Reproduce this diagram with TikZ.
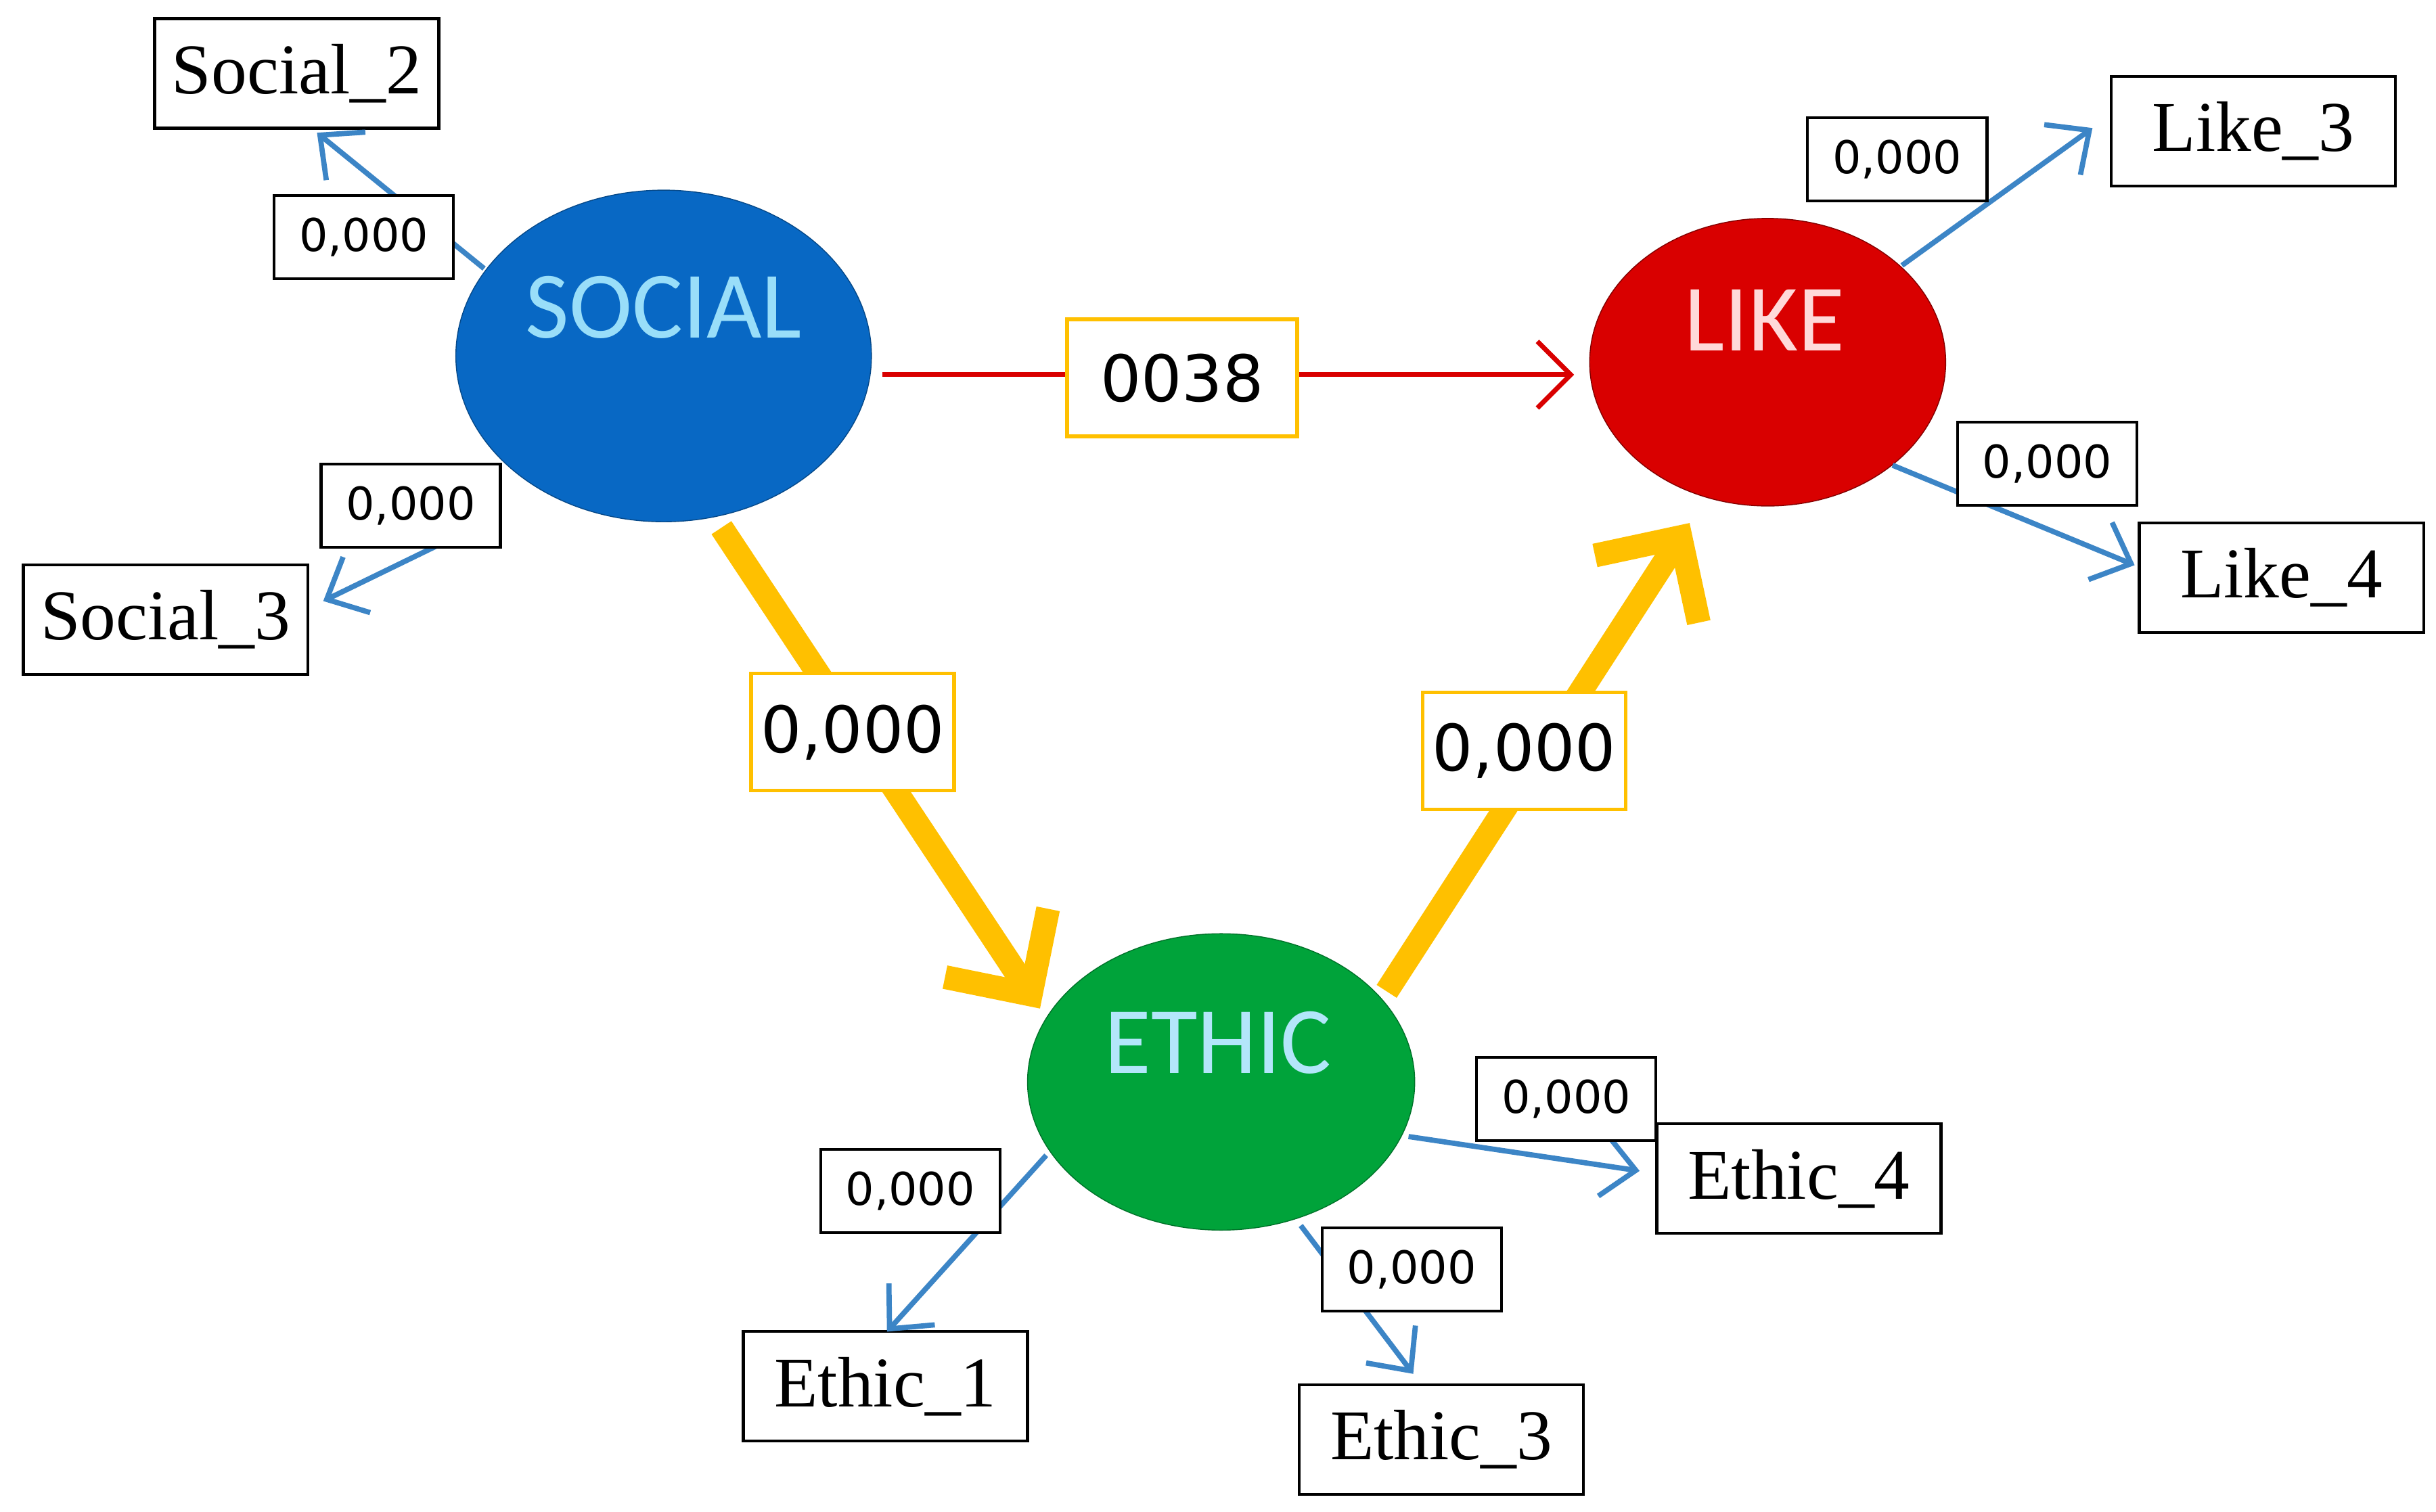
\documentclass[tikz,border=0pt]{standalone}
\usepackage{fontspec}
\setmainfont{Liberation Serif}
\newfontfamily\calfnt{Carlito}
\newfontfamily\dvfnt{DejaVu Sans}
\usetikzlibrary{arrows.meta,shapes.geometric}
\definecolor{sblue}{HTML}{0868C4}
\definecolor{lred}{HTML}{D90000}
\definecolor{egreen}{HTML}{00A33A}
\definecolor{ylw}{HTML}{FFC000}
\definecolor{abl}{HTML}{3C85C6}
\begin{document}
\begin{tikzpicture}[x=0.023077cm,y=-0.023077cm,
 ind/.style={draw,line width=1.2pt,minimum width=4.2cm,minimum height=1.62cm,font=\fontsize{30}{30}\selectfont,fill=white},
 sm/.style={draw,line width=1.2pt,minimum width=2.65cm,minimum height=1.23cm,font=\dvfnt\fontsize{19}{19}\selectfont,fill=white},
 yl/.style={draw=ylw,line width=1.5pt,fill=white,minimum width=3.0cm,minimum height=1.73cm,font=\dvfnt\fontsize{27}{27}\selectfont},
 ba/.style={abl,line width=2.2pt,-{Straight Barb[length=14pt,width=26pt,line width=2.2pt]}},
 ya/.style={ylw,line width=10pt,-{Straight Barb[length=26pt,width=52pt,line width=10pt]}},
 lat/.style={font=\calfnt\fontsize{40}{40}\selectfont}]
\useasboundingbox (0,0) rectangle (1560,968.5);
% latent
\node[ellipse,fill=sblue,draw=sblue!70!black,minimum width=6.14cm,minimum height=4.9cm] (soc) at (425,228) {};
\node[lat,text=cyan!40!white] at (425,197) {SOCIAL};
\node[ellipse,fill=lred,draw=lred!60!black,minimum width=5.26cm,minimum height=4.25cm] (like) at (1132,232) {};
\node[lat,text=white!85!red] at (1130,205) {LIKE};
\node[ellipse,fill=egreen,draw=egreen!70!black,minimum width=5.72cm,minimum height=4.38cm] (eth) at (782,693) {};
\node[lat,text=cyan!30!white] at (780,668) {ETHIC};
% indicators
\node[ind] (s2) at (190,47) {Social\_2};
\node[ind] (s3) at (106,397) {Social\_3};
\node[ind] (l3) at (1443,84) {Like\_3};
\node[ind] (l4) at (1461,370) {Like\_4};
\node[ind] (e4) at (1152,755) {Ethic\_4};
\node[ind] (e1) at (567,888) {Ethic\_1};
\node[ind] (e3) at (923,922) {Ethic\_3};
% endpoints
\coordinate (a1) at (310,172); \coordinate (b1) at (203,85);
\coordinate (a2) at (320,330); \coordinate (b2) at (207,385);
\coordinate (a3) at (1218,170); \coordinate (b3) at (1340,82);
\coordinate (a4) at (1212,298); \coordinate (b4) at (1367,362);
\coordinate (a5) at (902,728); \coordinate (b5) at (1050,750);
\coordinate (a6) at (670,740); \coordinate (b6) at (568,853);
\coordinate (a7) at (833,785); \coordinate (b7) at (905,880);
\coordinate (r1) at (565,240); \coordinate (r2) at (1008,240);
\coordinate (y1) at (462,338); \coordinate (y2) at (666,646);
\coordinate (y3) at (888,635); \coordinate (y4) at (1082,335);
\foreach \i in {1,...,7}{\draw[ba] (a\i) -- (b\i);}
\draw[lred,line width=2pt,-{Straight Barb[length=14pt,width=28pt,line width=2pt]}] (r1) -- (r2);
\draw[ya] (y1) -- (y2);
\draw[ya] (y3) -- (y4);
% labels
\node[sm] at (233,152) {0,000};
\node[sm] at (263,324) {0,000};
\node[sm] at (1215,102) {0,000};
\node[sm] at (1311,297) {0,000};
\node[sm] at (1003,704) {0,000};
\node[sm] at (583,763) {0,000};
\node[sm] at (904,813) {0,000};
\node[yl,minimum width=3.4cm] at (757,242) {0038};
\node[yl] at (546,469) {0,000};
\node[yl] at (976,481) {0,000};
\end{tikzpicture}
\end{document}
